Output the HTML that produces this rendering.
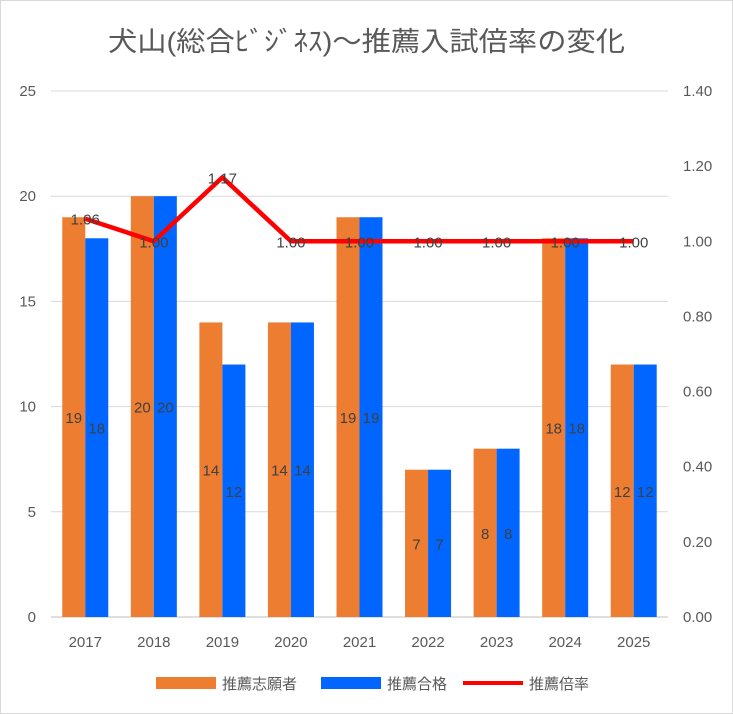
<!DOCTYPE html>
<html><head><meta charset="utf-8"><style>
body{margin:0;background:#fff}
svg{display:block}
text{font-family:"Liberation Sans","Noto Sans CJK JP",sans-serif}
</style></head><body>
<svg id="c" width="733" height="714">
<rect x="0.5" y="0.5" width="732" height="713" fill="#fff" stroke="#d9d9d9"/>
<text x="108" y="51" font-size="27" fill="#595959" textLength="517" lengthAdjust="spacingAndGlyphs">犬山(総合ﾋﾞｼﾞﾈｽ)～推薦入試倍率の変化</text>
<g id="grid"></g><g id="bars"></g><g id="line"></g><g id="labels"></g><g id="axes"></g>
<g>
<rect x="156" y="677" width="60" height="12" fill="#ED7D31"/>
<text x="222" y="689" font-size="15" fill="#595959">推薦志願者</text>
<rect x="321" y="677" width="60" height="12" fill="#0066FF"/>
<text x="387" y="689" font-size="15" fill="#595959">推薦合格</text>
<line x1="463" y1="683" x2="523" y2="683" stroke="#FF0000" stroke-width="4"/>
<text x="529" y="689" font-size="15" fill="#595959">推薦倍率</text>
</g>
</svg>
<script>
const categories=["2017","2018","2019","2020","2021","2022","2023","2024","2025"];
const applicants=[19,20,14,14,19,7,8,18,12];
const passed=[18,20,12,14,19,7,8,18,12];
const ratio=[1.06,1.00,1.17,1.00,1.00,1.00,1.00,1.00,1.00];
const leftTicks=[0,5,10,15,20,25];
const rightTicks=["0.00","0.20","0.40","0.60","0.80","1.00","1.20","1.40"];
const NS="http://www.w3.org/2000/svg";
const X0=51,X1=668,Y0=617,Y1=91;
const bw=(X1-X0)/categories.length;
const yL=v=>Y0-v/25*(Y0-Y1);
const yR=v=>Y0-v/1.4*(Y0-Y1);
const xc=i=>X0+bw*(i+0.5);
function mk(tag,attrs,parent,txt){const e=document.createElementNS(NS,tag);for(const k in attrs)e.setAttribute(k,attrs[k]);if(txt!==undefined)e.textContent=txt;document.getElementById(parent).appendChild(e);return e;}
leftTicks.forEach(t=>{
 const g=mk('line',{x1:X0,x2:X1,y1:yL(t),y2:yL(t),stroke:t===0?'#bfbfbf':'#d9d9d9','stroke-width':1},'grid');
 
 
 const l=mk('text',{x:36,y:yL(t)+5,'text-anchor':'end','font-size':15,fill:'#595959'},'axes',t);
 
 
});
rightTicks.forEach(t=>{
 const l=mk('text',{x:683,y:yR(+t)+5,'font-size':15,fill:'#595959'},'axes',t);
 
 
});
const w=23;
categories.forEach((c,i)=>{
 const cx=xc(i);
 const a=mk('rect',{x:cx-w,y:yL(applicants[i]),width:w,height:Y0-yL(applicants[i]),fill:'#ED7D31'},'bars');
 
 
 const p=mk('rect',{x:cx,y:yL(passed[i]),width:w,height:Y0-yL(passed[i]),fill:'#0066FF'},'bars');
 
 
 const la=mk('text',{x:cx-w/2,y:(yL(applicants[i])+Y0)/2+6,'text-anchor':'middle','font-size':15,fill:'#404040'},'labels',applicants[i]);
 
 
 const lp=mk('text',{x:cx+w/2,y:(yL(passed[i])+Y0)/2+6,'text-anchor':'middle','font-size':15,fill:'#404040'},'labels',passed[i]);
 
 
 const xl=mk('text',{x:cx,y:647,'text-anchor':'middle','font-size':15,fill:'#595959'},'axes',c);
 
 
 const rl=mk('text',{x:cx,y:yR(ratio[i])+6,'text-anchor':'middle','font-size':15,fill:'#404040'},'labels',ratio[i].toFixed(2));
 
 
});
const pl=mk('polyline',{points:ratio.map((r,i)=>xc(i)+','+yR(r)).join(' '),fill:'none',stroke:'#FF0000','stroke-width':4.5,'stroke-linejoin':'round'},'line');


</script>
</body></html>
